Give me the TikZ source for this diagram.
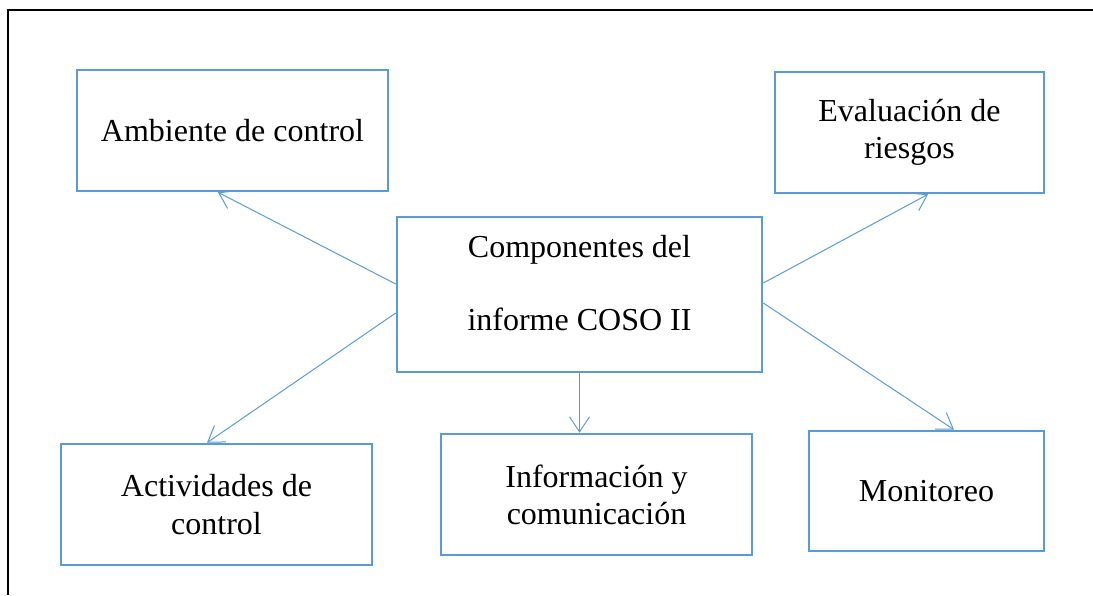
\documentclass[tikz,border=0pt]{standalone}
\usepackage{fontspec}
\setmainfont{Liberation Serif}
\usetikzlibrary{arrows.meta}
\definecolor{boxblue}{HTML}{5B9BD5}
\tikzset{
  box/.style={draw=boxblue, line width=2.6pt, rectangle, align=center, inner sep=0pt,
    font=\fontsize{32}{37}\selectfont, text=black},
  conn/.style={draw=boxblue, line width=1pt, -{Straight Barb[length=15pt,width=20pt,line width=1pt]}},
  frameline/.style={draw=black, line width=1.8pt}
}
\begin{document}
\begin{tikzpicture}[x=1pt,y=-1pt]
\useasboundingbox (0,0) rectangle (1093,595);
\draw[frameline] (8,595) -- (8,10) -- (1093,10);
\node[box, minimum width=311pt, minimum height=121pt] (amb) at (232.5,130.5) {Ambiente de control};
\node[box, minimum width=269pt, minimum height=121pt] (eva) at (909.5,132.5) {Evaluación de\\riesgos};
\node[box, minimum width=365pt, minimum height=155pt] (cen) at (579.5,294.5) {Componentes del\\[36pt]informe COSO II\rule[-24pt]{0pt}{0pt}};
\node[box, minimum width=311pt, minimum height=121pt] (act) at (216.5,504.5) {Actividades de\\[1pt]control};
\node[box, minimum width=311pt, minimum height=121pt] (inf) at (596.5,494.5) {Información y\\comunicación};
\node[box, minimum width=235pt, minimum height=120pt] (mon) at (926.5,491) {Monitoreo};
\draw[conn] ([yshift=10.5pt]cen.west) -- ([xshift=-14.5pt]amb.south);
\draw[conn] ([yshift=-18.5pt]cen.west) -- ([xshift=-9.5pt]act.north);
\draw[conn] (cen.south) -- (cen.south |- inf.north);
\draw[conn] ([yshift=11.5pt]cen.east) -- ([xshift=18.5pt]eva.south);
\draw[conn] ([yshift=-8.5pt]cen.east) -- ([xshift=27.5pt]mon.north);
\end{tikzpicture}
\end{document}
